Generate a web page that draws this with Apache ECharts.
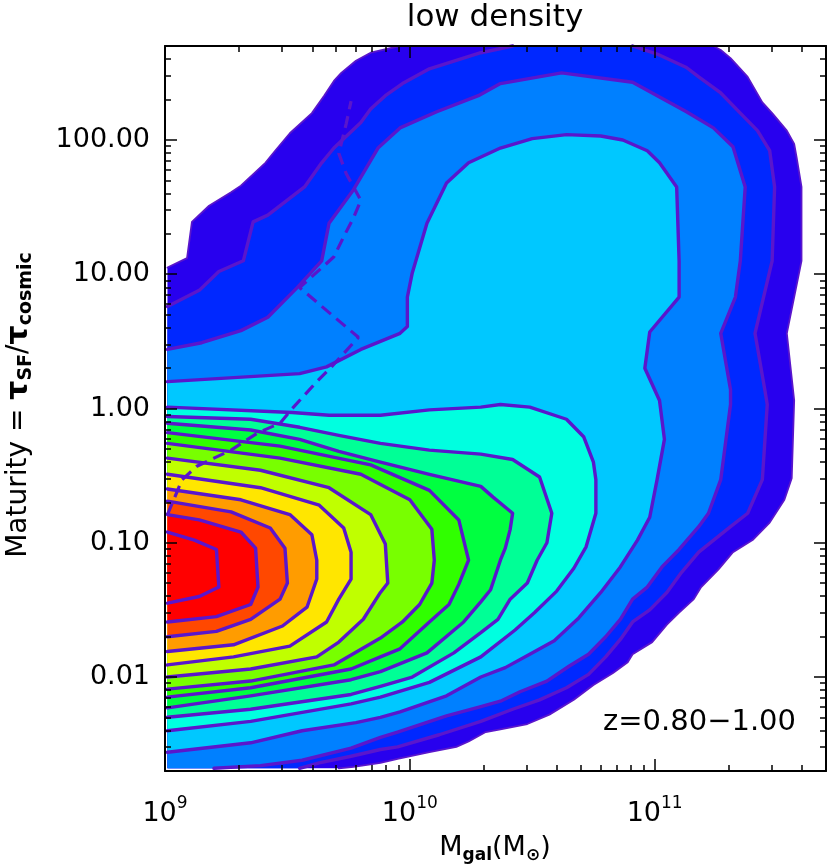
<!DOCTYPE html>
<html><head><meta charset="utf-8">
<script src="https://cdn.jsdelivr.net/npm/echarts@6/dist/echarts.min.js"></script>
<style>html,body{margin:0;padding:0;background:#fff}#c{width:830px;height:867px}</style>
</head><body><div id="c"></div>
<script>
// ---- axis ranges (log10 units) and tick labels ----
const X_MIN = 9, X_MAX = 11.7;      // log10 M_gal : 1e9 .. 5e11
const Y_MIN = -2.7, Y_MAX = 2.7;    // log10 maturity : 0.002 .. 500
const xMajorTicks = [9, 10, 11];
const yMajorTicks = [-2, -1, 0, 1, 2];
const yTickLabels = ['0.01', '0.10', '1.00', '10.00', '100.00'];
const minorMultipliers = [2, 3, 4, 5, 6, 7, 8, 9];

// ---- filled contour boundaries, [log10 M, log10 maturity], outermost first ----
const level1 = [[9.01,1.05],[9.09,1.12],[9.11,1.39],[9.18,1.51],[9.27,1.61],[9.31,1.66],[9.41,1.83],[9.45,1.92],[9.51,2.05],[9.60,2.20],[9.65,2.33],[9.69,2.44],[9.72,2.50],[9.78,2.59],[9.84,2.65],[9.96,2.70],[11.24,2.70],[11.27,2.67],[11.31,2.61],[11.38,2.47],[11.44,2.28],[11.48,2.20],[11.54,2.07],[11.57,1.97],[11.58,1.87],[11.60,1.65],[11.60,1.10],[11.54,0.56],[11.57,0.06],[11.56,-0.52],[11.53,-0.68],[11.47,-0.85],[11.40,-0.98],[11.32,-1.07],[11.26,-1.20],[11.19,-1.33],[11.16,-1.42],[11.10,-1.52],[11.05,-1.61],[10.99,-1.74],[10.91,-1.83],[10.89,-1.89],[10.83,-1.97],[10.75,-2.06],[10.67,-2.17],[10.57,-2.28],[10.48,-2.35],[10.37,-2.39],[10.31,-2.41],[10.24,-2.48],[10.19,-2.52],[10.08,-2.56],[9.95,-2.61],[9.88,-2.64],[9.77,-2.67],[9.71,-2.68],[9.01,-2.68]];
const level2 = [[9.01,0.76],[9.14,0.88],[9.22,1.02],[9.32,1.10],[9.36,1.39],[9.42,1.44],[9.57,1.65],[9.64,1.83],[9.69,1.94],[9.80,2.13],[9.84,2.23],[9.90,2.33],[9.97,2.42],[10.08,2.53],[10.29,2.65],[10.42,2.70],[10.91,2.70],[11.01,2.64],[11.13,2.54],[11.18,2.47],[11.27,2.35],[11.35,2.20],[11.42,2.07],[11.47,1.92],[11.49,1.65],[11.48,1.10],[11.41,0.56],[11.45,0.14],[11.46,0.03],[11.44,-0.53],[11.38,-0.78],[11.31,-0.88],[11.18,-1.07],[11.11,-1.22],[11.05,-1.37],[10.98,-1.50],[10.91,-1.59],[10.86,-1.72],[10.80,-1.85],[10.73,-1.98],[10.64,-2.08],[10.53,-2.17],[10.42,-2.24],[10.29,-2.33],[10.12,-2.43],[9.95,-2.52],[9.88,-2.54],[9.76,-2.59],[9.63,-2.64],[9.55,-2.68],[9.01,-2.68]];
const level3 = [[9.01,0.44],[9.15,0.49],[9.31,0.58],[9.42,0.68],[9.54,0.90],[9.64,1.10],[9.67,1.38],[9.77,1.63],[9.87,1.94],[9.96,2.09],[10.11,2.21],[10.28,2.33],[10.37,2.42],[10.62,2.50],[10.91,2.43],[11.13,2.21],[11.24,2.09],[11.32,1.95],[11.37,1.65],[11.35,1.10],[11.33,0.83],[11.27,0.56],[11.31,0.14],[11.31,0.03],[11.27,-0.53],[11.22,-0.78],[11.18,-0.88],[11.10,-1.05],[11.03,-1.18],[10.97,-1.33],[10.91,-1.42],[10.86,-1.57],[10.80,-1.70],[10.73,-1.83],[10.65,-1.92],[10.56,-2.03],[10.45,-2.11],[10.37,-2.18],[10.29,-2.22],[10.15,-2.29],[9.95,-2.41],[9.88,-2.45],[9.76,-2.53],[9.56,-2.62],[9.39,-2.66],[9.20,-2.68],[9.01,-2.68]];
const level4 = [[9.01,0.20],[9.55,0.26],[9.66,0.31],[9.80,0.44],[9.96,0.56],[9.99,0.61],[9.99,0.83],[10.01,1.01],[10.07,1.38],[10.15,1.68],[10.24,1.83],[10.37,1.94],[10.50,2.01],[10.64,2.04],[10.78,2.03],[10.87,2.00],[10.97,1.92],[11.02,1.83],[11.09,1.65],[11.10,1.10],[11.10,0.83],[10.98,0.57],[10.96,0.30],[11.02,0.06],[11.04,-0.23],[11.01,-0.53],[10.98,-0.81],[10.93,-0.98],[10.86,-1.18],[10.78,-1.37],[10.69,-1.56],[10.59,-1.73],[10.49,-1.83],[10.39,-1.93],[10.29,-2.00],[10.15,-2.14],[9.96,-2.26],[9.88,-2.30],[9.78,-2.34],[9.56,-2.40],[9.35,-2.49],[9.01,-2.56]];
const level5 = [[9.01,0.01],[9.52,-0.03],[9.67,-0.05],[9.88,-0.05],[10.08,-0.01],[10.29,0.01],[10.37,0.03],[10.49,0.01],[10.64,-0.08],[10.71,-0.21],[10.75,-0.40],[10.76,-0.53],[10.76,-0.78],[10.72,-1.03],[10.67,-1.19],[10.60,-1.36],[10.51,-1.52],[10.43,-1.65],[10.29,-1.85],[10.08,-2.04],[9.88,-2.15],[9.76,-2.20],[9.35,-2.33],[9.01,-2.40]];
const level6 = [[9.01,-0.06],[9.35,-0.08],[9.55,-0.14],[9.71,-0.20],[9.88,-0.26],[10.08,-0.31],[10.29,-0.34],[10.42,-0.38],[10.53,-0.51],[10.58,-0.78],[10.56,-1.00],[10.52,-1.13],[10.48,-1.30],[10.41,-1.42],[10.36,-1.57],[10.29,-1.67],[10.18,-1.82],[10.01,-2.00],[9.88,-2.07],[9.76,-2.13],[9.35,-2.24],[9.01,-2.30]];
const level7 = [[9.01,-0.11],[9.35,-0.16],[9.55,-0.23],[9.71,-0.32],[9.88,-0.40],[10.08,-0.49],[10.29,-0.58],[10.34,-0.66],[10.42,-0.78],[10.41,-0.90],[10.39,-1.04],[10.37,-1.13],[10.33,-1.35],[10.29,-1.44],[10.22,-1.59],[10.07,-1.82],[9.88,-1.96],[9.76,-2.02],[9.35,-2.14],[9.01,-2.23]];
const level8 = [[9.01,-0.18],[9.47,-0.28],[9.84,-0.42],[10.08,-0.61],[10.20,-0.83],[10.24,-1.13],[10.20,-1.31],[10.16,-1.46],[10.08,-1.59],[9.96,-1.79],[9.88,-1.85],[9.76,-1.94],[9.35,-2.08],[9.01,-2.15]];
const level9 = [[9.01,-0.26],[9.47,-0.37],[9.80,-0.49],[10.00,-0.68],[10.09,-0.90],[10.10,-1.13],[10.09,-1.30],[10.04,-1.46],[9.97,-1.59],[9.88,-1.71],[9.69,-1.91],[9.35,-2.03],[9.01,-2.09]];
const level10 = [[9.01,-0.37],[9.39,-0.46],[9.67,-0.59],[9.84,-0.79],[9.90,-1.01],[9.91,-1.30],[9.88,-1.37],[9.81,-1.57],[9.71,-1.74],[9.62,-1.85],[9.35,-1.94],[9.01,-2.00]];
const level11 = [[9.01,-0.49],[9.39,-0.59],[9.63,-0.72],[9.73,-0.89],[9.76,-1.07],[9.76,-1.27],[9.71,-1.42],[9.66,-1.59],[9.51,-1.77],[9.28,-1.85],[9.01,-1.91]];
const level12 = [[9.01,-0.60],[9.31,-0.68],[9.51,-0.79],[9.60,-0.94],[9.62,-1.13],[9.62,-1.27],[9.58,-1.48],[9.48,-1.62],[9.28,-1.76],[9.01,-1.81]];
const level13 = [[9.01,-0.69],[9.27,-0.77],[9.43,-0.89],[9.49,-1.04],[9.50,-1.30],[9.47,-1.42],[9.35,-1.57],[9.21,-1.66],[9.01,-1.70]];
const level14 = [[9.01,-0.79],[9.14,-0.83],[9.31,-0.92],[9.37,-1.04],[9.38,-1.33],[9.35,-1.46],[9.21,-1.55],[9.01,-1.59]];
const level15 = [[9.01,-0.92],[9.12,-0.98],[9.21,-1.05],[9.22,-1.33],[9.14,-1.40],[9.01,-1.45]];

const levelColors = ['#2800ee','#0028ff','#0080ff','#00c8ff','#00ffe0','#00ff96','#00ff40','#30ff00','#78ff00','#c0ff00','#ffe600','#ff9c00','#ff4800','#ff0000','#ff0000'];

// ---- dashed track ----
const medianTrack = [[9.01,-0.79],[9.04,-0.66],[9.07,-0.53],[9.13,-0.43],[9.20,-0.37],[9.27,-0.31],[9.38,-0.18],[9.47,-0.11],[9.52,0.00],[9.62,0.20],[9.68,0.31],[9.79,0.53],[9.55,0.90],[9.69,1.13],[9.73,1.28],[9.77,1.42],[9.80,1.55],[9.74,1.75],[9.71,1.90],[9.74,2.12],[9.76,2.29]];

const contourLevels = [level1, level2, level3, level4, level5, level6, level7, level8, level9, level10, level11, level12, level13, level14, level15];

const FONT = 'DejaVu Sans';
const LINE = '#5a16cc';

function minorTicks(lo, hi) {
  const out = [];
  for (let d = Math.floor(lo); d < hi; d++) {
    for (const m of minorMultipliers) {
      const v = d + Math.log10(m);
      if (v > lo + 0.005 && v < hi - 0.005) out.push(v);
    }
  }
  return out;
}
const xMinorTicks = minorTicks(X_MIN, X_MAX);
const yMinorTicks = minorTicks(Y_MIN, Y_MAX);

function edgesOf(p) {
  const e = [];
  if (p[0] <= 9.011) e.push('L');
  if (p[1] >= 2.699) e.push('T');
  if (p[1] <= -2.679) e.push('B');
  return e;
}
// split a closed boundary into open runs, skipping stretches that lie on the plot frame
function lineRuns(pts) {
  const runs = []; let cur = [];
  const n = pts.length;
  for (let i = 0; i < n; i++) {
    const a = pts[i], b = pts[(i + 1) % n];
    const ea = edgesOf(a), eb = edgesOf(b);
    if (ea.some(e => eb.includes(e))) {
      if (cur.length > 1) runs.push(cur);
      cur = [];
    } else {
      if (cur.length === 0) cur.push(a);
      cur.push(b);
    }
  }
  if (cur.length > 1) runs.push(cur);
  return runs;
}

const tickStyle = { color: '#000', width: 1.5 };
function axisPair(dim, pos, major, minor, labelCfg) {
  const base = {
    type: 'value', position: pos,
    min: dim === 'x' ? X_MIN : Y_MIN, max: dim === 'x' ? X_MAX : Y_MAX,
    splitLine: { show: false }, z: 10
  };
  return [
    Object.assign({}, base, {
      axisLine: { show: true, onZero: false, lineStyle: { color: '#000', width: 2 } },
      axisTick: { show: true, inside: true, length: 12, customValues: major, lineStyle: tickStyle },
      axisLabel: labelCfg || { show: false }
    }),
    Object.assign({}, base, {
      axisLine: { show: false, onZero: false },
      axisTick: { show: true, inside: true, length: 6, customValues: minor, lineStyle: tickStyle },
      axisLabel: { show: false }
    })
  ];
}

const xLabel = {
  show: true, customValues: xMajorTicks, margin: 24,
  fontFamily: FONT, fontSize: 27, color: '#000',
  formatter: v => '{b|10}{s|' + Math.round(v) + '}',
  rich: {
    b: { fontFamily: FONT, fontSize: 27, color: '#000', lineHeight: 32, verticalAlign: 'bottom' },
    s: { fontFamily: FONT, fontSize: 17, color: '#000', lineHeight: 17, verticalAlign: 'top' }
  }
};
const yLabel = {
  show: true, customValues: yMajorTicks, margin: 15,
  fontFamily: FONT, fontSize: 27, color: '#000',
  formatter: v => yTickLabels[yMajorTicks.indexOf(Math.round(v))]
};

const lineSeries = [];
contourLevels.forEach((lv, i) => {
  lineRuns(lv).forEach(run => {
    lineSeries.push({
      type: 'line', xAxisIndex: 0, yAxisIndex: 0, z: 3, silent: true,
      data: run, symbol: 'none', clip: false,
      lineStyle: { color: LINE, width: i === 0 ? 1.8 : 3.4, join: 'round', cap: 'round' }
    });
  });
});

const chart = echarts.init(document.getElementById('c'), null, { renderer: 'canvas' });
chart.setOption({
  animation: false,
  backgroundColor: '#fff',
  grid: { left: 165, right: 4, top: 46, bottom: 96 },
  xAxis: [].concat(axisPair('x', 'bottom', xMajorTicks, xMinorTicks, xLabel), axisPair('x', 'top', xMajorTicks, xMinorTicks, null)),
  yAxis: [].concat(axisPair('y', 'left', yMajorTicks, yMinorTicks, yLabel), axisPair('y', 'right', yMajorTicks, yMinorTicks, null)),
  series: [
    {
      // filled bands
      type: 'custom', xAxisIndex: 0, yAxisIndex: 0, z: 2, silent: true,
      data: contourLevels.map(lv => lv[0]),
      renderItem: (params, api) => {
        const i = params.dataIndex;
        return {
          type: 'polygon', shape: { points: contourLevels[i].map(p => api.coord(p)) },
          style: { fill: levelColors[i], stroke: null }
        };
      }
    }
  ].concat(lineSeries).concat([
    {
      type: 'line', xAxisIndex: 0, yAxisIndex: 0, z: 4, silent: true,
      data: medianTrack, symbol: 'none',
      lineStyle: { color: LINE, width: 3.2, type: [12, 7] }
    }
  ]),
  graphic: [
    { type: 'text', x: 495, y: 18, z: 20, style: { text: 'low density', font: '31px "DejaVu Sans"', fill: '#000', textAlign: 'center', textVerticalAlign: 'middle' } },
    { type: 'text', x: 796, y: 722, z: 20, style: { text: 'z=0.80\u22121.00', font: '29px "DejaVu Sans"', fill: '#000', textAlign: 'right', textVerticalAlign: 'middle' } },
    { type: 'text', x: 495, y: 849, z: 20, style: {
        text: '{n|M}{s|gal}{n|(M}{s|\u2299}{n|)}', textAlign: 'center', textVerticalAlign: 'middle',
        rich: {
          n: { fontFamily: FONT, fontSize: 27, lineHeight: 30, verticalAlign: 'top', fill: '#000' },
          s: { fontFamily: FONT, fontSize: 17, lineHeight: 18, padding: [12, 0, 0, 0], verticalAlign: 'bottom', fill: '#000', fontWeight: 'bold' }
        } } },
    { type: 'text', x: 20, y: 405, rotation: Math.PI / 2, z: 20, style: {
        text: '{n|Maturity = }{t|\u03c4}{s|SF}{n|/}{t|\u03c4}{s|cosmic}', textAlign: 'center', textVerticalAlign: 'middle',
        rich: {
          n: { fontFamily: FONT, fontSize: 28, lineHeight: 31, verticalAlign: 'top', fill: '#000' },
          t: { fontFamily: FONT, fontSize: 30, lineHeight: 31, verticalAlign: 'top', fill: '#000', fontWeight: 'bold' },
          s: { fontFamily: FONT, fontSize: 19, lineHeight: 19, padding: [12, 0, 0, 0], verticalAlign: 'bottom', fill: '#000', fontWeight: 'bold' }
        } } }
  ]
});
</script></body></html>
